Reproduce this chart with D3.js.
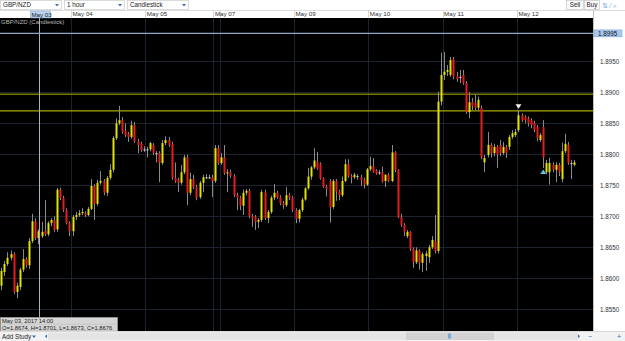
<!DOCTYPE html>
<html><head><meta charset="utf-8">
<script src="https://cdn.jsdelivr.net/npm/d3@7"></script>
<style>body{margin:0;background:#fff;overflow:hidden}svg{display:block;font-family:"Liberation Sans",Arial,sans-serif}</style>
</head><body><svg id="c" width="625" height="341"></svg>
<script>
const openP=[
1.8588,1.8610,1.8623,1.8633,1.8639,1.8578,1.8586,1.8614,1.8631,1.8621,
1.8660,1.8692,1.8665,1.8668,1.8676,1.8671,1.8689,1.8694,1.8679,1.8743,
1.8730,1.8710,1.8689,1.8676,1.8699,1.8702,1.8705,1.8705,1.8702,1.8712,
1.8749,1.8720,1.8754,1.8757,1.8738,1.8762,1.8775,1.8826,1.8850,1.8855,
1.8838,1.8833,1.8828,1.8847,1.8821,1.8817,1.8808,1.8808,1.8808,1.8815,
1.8802,1.8802,1.8786,1.8818,1.8823,1.8817,1.8762,1.8759,1.8754,1.8771,
1.8795,1.8738,1.8760,1.8747,1.8731,1.8754,1.8763,1.8763,1.8763,1.8757,
1.8810,1.8786,1.8795,1.8770,1.8771,1.8765,1.8734,1.8730,1.8717,1.8738,
1.8741,1.8700,1.8699,1.8691,1.8694,1.8739,1.8697,1.8707,1.8730,1.8738,
1.8731,1.8721,1.8718,1.8734,1.8730,1.8710,1.8696,1.8710,1.8727,1.8745,
1.8764,1.8779,1.8788,1.8784,1.8761,1.8748,1.8757,1.8715,1.8757,1.8740,
1.8734,1.8757,1.8784,1.8765,1.8763,1.8765,1.8763,1.8759,1.8751,1.8776,
1.8781,1.8774,1.8771,1.8771,1.8757,1.8767,1.8757,1.8803,1.8775,1.8699,
1.8686,1.8668,1.8675,1.8647,1.8626,1.8645,1.8625,1.8636,1.8634,1.8650,
1.8660,1.8644,1.8885,1.8928,1.8933,1.8928,1.8954,1.8926,1.8925,1.8928,
1.8915,1.8868,1.8884,1.8883,1.8875,1.8875,1.8787,1.8799,1.8815,1.8802,
1.8812,1.8815,1.8802,1.8812,1.8812,1.8828,1.8831,1.8839,1.8863,1.8860,
1.8858,1.8855,1.8850,1.8844,1.8823,1.8844,1.8771,1.8771,1.8783,1.8775,
1.8783,1.8760,1.8805,1.8815,1.8786,1.8783];
const highP=[
1.8617,1.8628,1.8642,1.8645,1.8642,1.8593,1.8617,1.8647,1.8634,1.8665,
1.8704,1.8697,1.8679,1.8691,1.8726,1.8692,1.8697,1.8700,1.8746,1.8746,
1.8733,1.8713,1.8692,1.8702,1.8707,1.8710,1.8713,1.8708,1.8715,1.8760,
1.8752,1.8759,1.8773,1.8760,1.8765,1.8784,1.8829,1.8858,1.8878,1.8860,
1.8850,1.8836,1.8854,1.8852,1.8825,1.8820,1.8813,1.8812,1.8820,1.8818,
1.8805,1.8805,1.8823,1.8829,1.8828,1.8820,1.8787,1.8762,1.8783,1.8799,
1.8799,1.8770,1.8767,1.8751,1.8757,1.8767,1.8768,1.8767,1.8767,1.8815,
1.8815,1.8802,1.8815,1.8776,1.8775,1.8768,1.8738,1.8733,1.8743,1.8744,
1.8744,1.8704,1.8702,1.8697,1.8743,1.8743,1.8710,1.8733,1.8752,1.8741,
1.8734,1.8725,1.8747,1.8738,1.8733,1.8713,1.8712,1.8730,1.8747,1.8778,
1.8781,1.8810,1.8804,1.8787,1.8763,1.8751,1.8760,1.8760,1.8760,1.8743,
1.8764,1.8792,1.8792,1.8768,1.8770,1.8768,1.8767,1.8762,1.8778,1.8796,
1.8794,1.8776,1.8775,1.8780,1.8768,1.8770,1.8815,1.8805,1.8776,1.8704,
1.8689,1.8678,1.8676,1.8650,1.8650,1.8647,1.8642,1.8644,1.8654,1.8668,
1.8702,1.8901,1.8964,1.8965,1.8944,1.8957,1.8957,1.8933,1.8936,1.8936,
1.8918,1.8900,1.8891,1.8896,1.8893,1.8879,1.8799,1.8836,1.8818,1.8817,
1.8815,1.8823,1.8820,1.8815,1.8831,1.8839,1.8841,1.8871,1.8866,1.8863,
1.8861,1.8858,1.8854,1.8847,1.8834,1.8855,1.8791,1.8794,1.8787,1.8787,
1.8786,1.8819,1.8833,1.8820,1.8791,1.8791];
const lowP=[
1.8581,1.8604,1.8620,1.8629,1.8575,1.8568,1.8581,1.8610,1.8617,1.8615,
1.8657,1.8662,1.8655,1.8665,1.8668,1.8668,1.8684,1.8675,1.8675,1.8726,
1.8707,1.8687,1.8668,1.8668,1.8694,1.8699,1.8702,1.8699,1.8700,1.8710,
1.8694,1.8717,1.8751,1.8734,1.8733,1.8759,1.8771,1.8823,1.8847,1.8833,
1.8828,1.8820,1.8825,1.8818,1.8802,1.8804,1.8804,1.8795,1.8805,1.8799,
1.8787,1.8755,1.8783,1.8815,1.8812,1.8759,1.8754,1.8739,1.8751,1.8768,
1.8718,1.8734,1.8744,1.8726,1.8728,1.8739,1.8760,1.8760,1.8731,1.8754,
1.8783,1.8783,1.8767,1.8739,1.8762,1.8731,1.8710,1.8710,1.8702,1.8734,
1.8697,1.8683,1.8678,1.8681,1.8691,1.8694,1.8689,1.8704,1.8726,1.8728,
1.8718,1.8712,1.8715,1.8726,1.8707,1.8689,1.8690,1.8707,1.8725,1.8743,
1.8759,1.8776,1.8775,1.8759,1.8746,1.8732,1.8690,1.8712,1.8725,1.8726,
1.8731,1.8755,1.8762,1.8753,1.8760,1.8759,1.8749,1.8745,1.8749,1.8773,
1.8770,1.8767,1.8767,1.8754,1.8747,1.8755,1.8755,1.8771,1.8697,1.8683,
1.8668,1.8665,1.8644,1.8617,1.8623,1.8614,1.8610,1.8612,1.8625,1.8647,
1.8640,1.8640,1.8879,1.8920,1.8926,1.8925,1.8921,1.8917,1.8915,1.8912,
1.8865,1.8858,1.8871,1.8871,1.8870,1.8792,1.8771,1.8795,1.8795,1.8797,
1.8778,1.8797,1.8799,1.8794,1.8807,1.8825,1.8828,1.8836,1.8852,1.8850,
1.8845,1.8842,1.8836,1.8821,1.8820,1.8778,1.8768,1.8751,1.8771,1.8755,
1.8765,1.8755,1.8802,1.8783,1.8760,1.8781];
const closeP=[
1.8612,1.8623,1.8633,1.8639,1.8578,1.8588,1.8614,1.8631,1.8621,1.8660,
1.8692,1.8665,1.8676,1.8675,1.8671,1.8689,1.8694,1.8678,1.8743,1.8730,
1.8710,1.8689,1.8676,1.8699,1.8702,1.8705,1.8707,1.8702,1.8712,1.8749,
1.8720,1.8754,1.8757,1.8738,1.8762,1.8775,1.8826,1.8850,1.8855,1.8836,
1.8831,1.8828,1.8847,1.8821,1.8815,1.8807,1.8808,1.8808,1.8818,1.8802,
1.8802,1.8786,1.8818,1.8823,1.8815,1.8762,1.8757,1.8754,1.8771,1.8795,
1.8738,1.8760,1.8747,1.8730,1.8754,1.8763,1.8763,1.8763,1.8757,1.8810,
1.8786,1.8795,1.8770,1.8771,1.8765,1.8734,1.8730,1.8717,1.8738,1.8741,
1.8700,1.8697,1.8691,1.8694,1.8739,1.8697,1.8707,1.8730,1.8738,1.8731,
1.8721,1.8718,1.8734,1.8730,1.8710,1.8696,1.8710,1.8727,1.8745,1.8764,
1.8779,1.8790,1.8777,1.8761,1.8748,1.8744,1.8714,1.8757,1.8740,1.8734,
1.8757,1.8784,1.8765,1.8763,1.8767,1.8765,1.8759,1.8751,1.8776,1.8781,
1.8772,1.8769,1.8771,1.8756,1.8767,1.8757,1.8803,1.8775,1.8699,1.8686,
1.8675,1.8675,1.8647,1.8626,1.8645,1.8625,1.8639,1.8640,1.8650,1.8662,
1.8644,1.8885,1.8928,1.8933,1.8936,1.8952,1.8925,1.8921,1.8925,1.8915,
1.8868,1.8884,1.8878,1.8875,1.8888,1.8795,1.8794,1.8815,1.8802,1.8812,
1.8799,1.8802,1.8812,1.8802,1.8828,1.8834,1.8836,1.8863,1.8855,1.8855,
1.8850,1.8847,1.8839,1.8826,1.8831,1.8795,1.8786,1.8786,1.8775,1.8783,
1.8771,1.8805,1.8817,1.8786,1.8786,1.8787];

const dayIdx=[22.5,46.5,68.5,70.5,94.5,118.5,142.5,166.5];
const dayLabels=["May 04","May 05","May 07","","May 09","May 10","May 11","May 12"];
const priceTicks=[1.8950,1.8900,1.8850,1.8800,1.8750,1.8700,1.8650,1.8600,1.8550];
const levelLines=[1.8897,1.8870];
const crossIdx=12.3, crossPrice=1.8995, crossDate="May 03";
const highMarkIdx=167, lowMarkIdx=175;
const tipLines=["May 03, 2017  14:00","O=1.8674, H=1.8701, L=1.8673, C=1.8676"];

const svg=d3.select("#c");
const W=625,H=341, PL=0, PR=593, PT=18, PB=331;
const x=d3.scaleLinear().domain([0,185]).range([1.3,1.3+3.097*185]);
const y=d3.scaleLinear().domain([1.895,1.855]).range([61.3,309.3]);

// backgrounds
svg.append("rect").attr("width",W).attr("height",H).attr("fill","#f0f0f0");
svg.append("rect").attr("x",0).attr("y",0).attr("width",W).attr("height",10.5).attr("fill","#ffffff");
svg.append("rect").attr("x",0).attr("y",10.5).attr("width",W).attr("height",7.5).attr("fill","#ffffff");
svg.append("line").attr("x1",0).attr("x2",W).attr("y1",10.5).attr("y2",10.5).attr("stroke","#c8c8c8").attr("stroke-width",0.6);
svg.append("rect").attr("x",PL).attr("y",PT).attr("width",PR-PL).attr("height",PB-PT).attr("fill","#000");
svg.append("rect").attr("x",PR).attr("y",PT).attr("width",W-PR).attr("height",PB-PT).attr("fill","#ffffff");
svg.append("line").attr("x1",PR+0.5).attr("x2",PR+0.5).attr("y1",10.5).attr("y2",PB).attr("stroke","#b0b0b0").attr("stroke-width",0.8);

// toolbar
function dropdown(x0,w,label){
  const g=svg.append("g");
  g.append("rect").attr("x",x0+0.5).attr("y",0.5).attr("width",w).attr("height",9).attr("fill","#fff").attr("stroke","#c4c4c4").attr("stroke-width",0.6);
  g.append("text").attr("x",x0+3).attr("y",7.3).attr("font-size",6.3).attr("fill","#222").text(label);
  g.append("path").attr("d",`M${x0+w-6},4 l4,0 l-2,2.6z`).attr("fill","#3a6fb0");
}
dropdown(0,61,"GBP/NZD");
dropdown(64,60,"1 hour");
dropdown(127,61,"Candlestick");
[[566,17,"Sell"],[584,15,"Buy"]].forEach(([x0,w,t])=>{
  svg.append("rect").attr("x",x0+0.5).attr("y",0.5).attr("width",w).attr("height",9).attr("fill","#fafafa").attr("stroke","#bdbdbd").attr("stroke-width",0.6);
  svg.append("text").attr("x",x0+w/2+0.5).attr("y",7.3).attr("text-anchor","middle").attr("font-size",6.3).attr("fill","#222").text(t);
});
svg.append("text").attr("x",602).attr("y",7.5).attr("font-size",7).attr("fill","#6aa0d8").text("⇅ ∕ ⌕");

// date row
svg.append("g").selectAll("line").data(dayIdx).join("line")
  .attr("x1",d=>Math.round(x(d))+0.5).attr("x2",d=>Math.round(x(d))+0.5).attr("y1",10.5).attr("y2",PT)
  .attr("stroke","#c0c0c0").attr("stroke-width",0.6);
svg.append("g").selectAll("text").data(dayIdx).join("text")
  .attr("x",d=>x(d)+1.5).attr("y",16.3).attr("font-size",6.2).attr("fill","#333")
  .text((d,i)=>dayLabels[i]);
const cx=x(crossIdx);
svg.append("rect").attr("x",cx-9).attr("y",11).attr("width",20).attr("height",7).attr("fill","#bcd3ee").attr("stroke","#7fa6d6").attr("stroke-width",0.5);
svg.append("text").attr("x",cx-8).attr("y",16.5).attr("font-size",6.2).attr("fill","#222").text(crossDate);

// grid
const grid=svg.append("g").attr("stroke","#1d2230").attr("stroke-width",1);
grid.selectAll(".h").data(priceTicks).join("line").attr("x1",PL).attr("x2",PR)
  .attr("y1",d=>Math.round(y(d))+0.5).attr("y2",d=>Math.round(y(d))+0.5);
grid.selectAll(".v").data(dayIdx).join("line").attr("y1",PT).attr("y2",PB)
  .attr("x1",d=>Math.round(x(d))+0.5).attr("x2",d=>Math.round(x(d))+0.5);

// price axis labels
svg.append("g").selectAll("text").data(priceTicks).join("text")
  .attr("x",600).attr("y",d=>y(d)+2.3).attr("font-size",6.3).attr("fill","#333")
  .text(d=>d.toFixed(4));

// level lines
svg.append("g").selectAll("line").data(levelLines).join("line")
  .attr("x1",PL).attr("x2",PR).attr("y1",d=>y(d)).attr("y2",d=>y(d))
  .attr("stroke",(d,i)=>i===0?"#b4b400":"#d2d200").attr("stroke-width",1);

// candles
const idx=d3.range(openP.length);
const cg=svg.append("g");
cg.selectAll(".w").data(idx).join("line")
  .attr("x1",i=>Math.round(x(i))+0.5).attr("x2",i=>Math.round(x(i))+0.5)
  .attr("y1",i=>y(highP[i])).attr("y2",i=>y(lowP[i]))
  .attr("stroke","#8a8a8a").attr("stroke-width",1);
cg.selectAll(".b").data(idx).join("rect")
  .attr("x",i=>Math.round(x(i))-0.5).attr("width",2)
  .attr("y",i=>Math.min(y(openP[i]),y(closeP[i])))
  .attr("height",i=>Math.max(1.2,Math.abs(y(openP[i])-y(closeP[i]))))
  .attr("fill",i=>{const d=closeP[i]-openP[i]; return Math.abs(d)<0.00005?"#cfcfcf":(d>0?"#e2e200":"#e41c1c");});

// markers
const hx=x(highMarkIdx), hy=y(highP[highMarkIdx]);
svg.append("path").attr("d",`M${hx-3},${hy-6} L${hx+3},${hy-6} L${hx},${hy-1.5}Z`).attr("fill","#f2f2f2");
const lx=x(lowMarkIdx), ly=y(lowP[lowMarkIdx]);
svg.append("path").attr("d",`M${lx-3},${ly+6} L${lx+3},${ly+6} L${lx},${ly+1.5}Z`).attr("fill","#5fc6e8");

// crosshair
svg.append("line").attr("x1",Math.round(cx)+0.5).attr("x2",Math.round(cx)+0.5).attr("y1",PT).attr("y2",317)
  .attr("stroke","#aab2c4").attr("stroke-width",1);
svg.append("line").attr("x1",PL).attr("x2",PR).attr("y1",y(crossPrice)).attr("y2",y(crossPrice))
  .attr("stroke","#93a3c4").attr("stroke-width",1.2);
svg.append("rect").attr("x",594).attr("y",y(crossPrice)-3.5).attr("width",28).attr("height",7).attr("fill","#a9c8ee").attr("stroke","#6f9bd0").attr("stroke-width",0.5);
svg.append("text").attr("x",598).attr("y",y(crossPrice)+2.2).attr("font-size",6.3).attr("fill","#111").text(crossPrice.toFixed(4));

// title
svg.append("text").attr("x",1).attr("y",23.5).attr("font-size",6).attr("fill","#b8b8b8").text("GBP/NZD (Candlestick)");

// tooltip
svg.append("rect").attr("x",0.5).attr("y",317.5).attr("width",117).attr("height",13.5).attr("fill","#d6d6d6").attr("stroke","#a8a8a8").attr("stroke-width",0.6);
svg.append("line").attr("x1",0.5).attr("x2",117.5).attr("y1",324.2).attr("y2",324.2).attr("stroke","#b4b4b4").attr("stroke-width",0.5);
svg.append("text").attr("x",2).attr("y",323).attr("font-size",5.8).attr("fill","#222").text(tipLines[0]);
svg.append("text").attr("x",2).attr("y",329.8).attr("font-size",5.8).attr("fill","#222").text(tipLines[1]);

// bottom bar
svg.append("rect").attr("x",0).attr("y",PB).attr("width",W).attr("height",H-PB).attr("fill","#f2f2f2");
svg.append("line").attr("x1",0).attr("x2",W).attr("y1",PB+0.5).attr("y2",PB+0.5).attr("stroke","#c8c8c8").attr("stroke-width",0.6);
svg.append("text").attr("x",2).attr("y",338.5).attr("font-size",6.3).attr("fill","#222").text("Add Study");
svg.append("path").attr("d","M32,335.5 l4,0 l-2,2.6z").attr("fill","#3a6fb0");
svg.append("rect").attr("x",48).attr("y",332.5).attr("width",530).attr("height",7.5).attr("fill","#e4e4e4");
svg.append("rect").attr("x",406).attr("y",332.5).attr("width",88).attr("height",7.5).attr("fill","#d2d2d2");
svg.append("path").attr("d","M45,336.2 l2,-2 l0,4z").attr("fill","#3a6fb0");
svg.append("rect").attr("x",448).attr("y",333.5).attr("width",3).attr("height",5).attr("fill","#7aa6d8");
svg.append("path").attr("d","M578,334.2 l2,2 l-2,2z").attr("fill","#3a6fb0");
svg.append("text").attr("x",588).attr("y",339).attr("font-size",7).attr("fill","#3a6fb0").text("−");
svg.append("text").attr("x",617).attr("y",339).attr("font-size",7).attr("fill","#3a6fb0").text("+");
</script></body></html>
